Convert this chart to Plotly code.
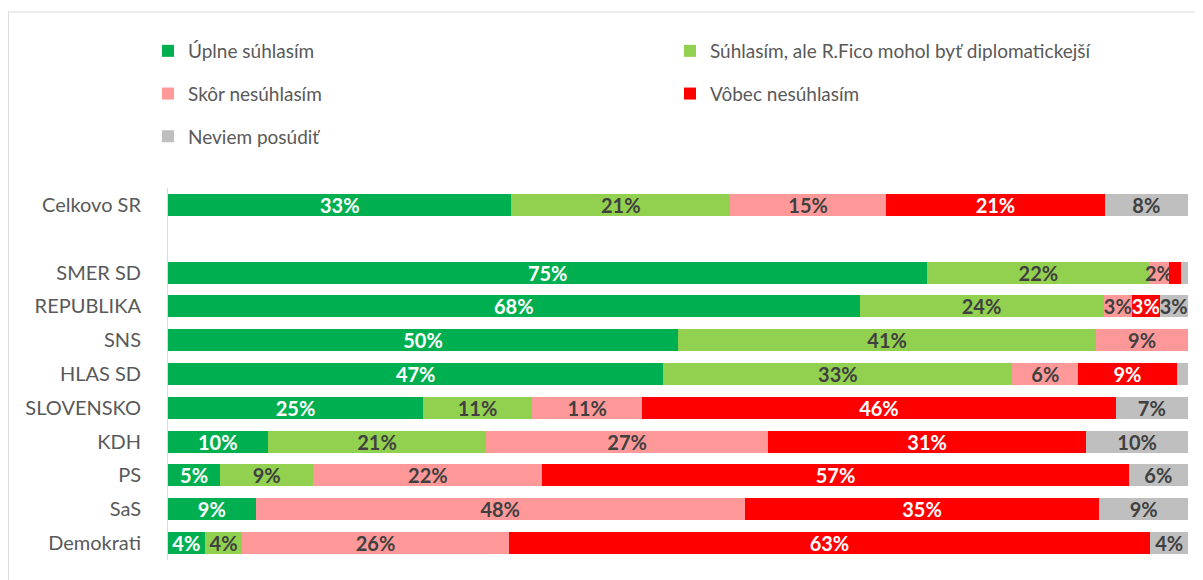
import plotly.graph_objects as go

# Row labels (None = empty gap row)
rows = ["Celkovo SR", None, "SMER SD", "REPUBLIKA", "SNS", "HLAS SD",
        "SLOVENSKO", "KDH", "PS", "SaS", "Demokrati"]

series_names = ["Úplne súhlasím",
                "Súhlasím, ale R.Fico mohol byť diplomatickejší",
                "Skôr nesúhlasím",
                "Vôbec nesúhlasím",
                "Neviem posúdiť"]

# values per series, in order of non-empty rows
uplne    = [33.0, 74.6, 68.0, 50.0, 47.4, 25.0, 9.7, 5.1, 8.6, 3.6]
suhlasim = [21.0, 21.8, 24.0, 41.0, 33.4, 10.7, 21.3, 9.1, 0.0, 3.7]
skor     = [15.0, 1.9, 2.8, 9.0, 6.3, 10.8, 27.4, 22.4, 48.0, 26.1]
vobec    = [21.0, 1.2, 2.7, 0.0, 9.4, 46.4, 31.0, 57.3, 34.8, 62.9]
neviem   = [8.0, 0.7, 2.8, 0.0, 1.1, 7.1, 9.9, 5.8, 8.7, 3.7]

# whether the value label is shown (small labels removed in original)
show_uplne    = [1, 1, 1, 1, 1, 1, 1, 1, 1, 1]
show_suhlasim = [1, 1, 1, 1, 1, 1, 1, 1, 0, 1]
show_skor     = [1, 1, 1, 1, 1, 1, 1, 1, 1, 1]
show_vobec    = [1, 0, 1, 0, 1, 1, 1, 1, 1, 1]
show_neviem   = [1, 0, 1, 0, 0, 1, 1, 1, 1, 1]

colors = ["#00B050", "#92D050", "#FF9999", "#FF0000", "#BFBFBF"]
text_colors = ["#FFFFFF", "#404040", "#404040", "#FFFFFF", "#404040"]
legend_ids = ["legend", "legend2", "legend", "legend2", "legend"]

labels = [r for r in rows if r is not None]
positions = [i for i, r in enumerate(rows) if r is not None]

FONT = "Lato"

fig = go.Figure()
all_vals = [uplne, suhlasim, skor, vobec, neviem]
all_show = [show_uplne, show_suhlasim, show_skor, show_vobec, show_neviem]
for k, name in enumerate(series_names):
    vals = all_vals[k]
    texts = [f"{round(v):d}%" if s and v > 0 else "" for v, s in zip(vals, all_show[k])]
    fig.add_trace(go.Bar(
        name=name,
        y=positions,
        x=vals,
        orientation="h",
        marker=dict(color=colors[k], line=dict(width=0)),
        text=texts,
        texttemplate="%{text}",
        textposition="inside",
        insidetextanchor="middle",
        textangle=0,
        insidetextfont=dict(family=FONT, size=20, color=text_colors[k], weight="bold"),
        legend=legend_ids[k],
        legendgroup=name,
        hoverinfo="skip",
    ))

# plot area (figure pixels): x 160..1180, y 180..552
L, R, T, B = 160, 23, 180, 28
PW, PH = 1203 - L - R, 580 - T - B

fig.update_layout(
    width=1203, height=580,
    barmode="stack", barnorm="percent", bargap=0.35,
    plot_bgcolor="white", paper_bgcolor="white",
    margin=dict(l=L, r=R, t=T, b=B, autoexpand=False),
    font=dict(family=FONT, color="#595959"),
    uniformtext=dict(minsize=20, mode="show"),
    showlegend=True,
    legend=dict(
        xref="container", yref="container",
        x=140 / 1203, y=1 - 24 / 580, xanchor="left", yanchor="top",
        orientation="v", traceorder="grouped", tracegroupgap=15,
        font=dict(family=FONT, size=19, color="#595959"),
        bgcolor="rgba(0,0,0,0)",
    ),
    legend2=dict(
        xref="container", yref="container",
        x=662 / 1203, y=1 - 24 / 580, xanchor="left", yanchor="top",
        orientation="v", traceorder="grouped", tracegroupgap=15,
        font=dict(family=FONT, size=19, color="#595959"),
        bgcolor="rgba(0,0,0,0)",
    ),
    xaxis=dict(range=[0, 100], showticklabels=False, showgrid=False,
               zeroline=False, showline=False, fixedrange=True),
    yaxis=dict(range=[len(rows) - 0.5, -0.5], tickmode="array",
               tickvals=positions, ticktext=labels,
               showgrid=False, zeroline=False,
               showline=True, linecolor="#D9D9D9", linewidth=1,
               ticks="", ticklabelstandoff=22,
               tickfont=dict(family=FONT, size=20, color="#595959")),
)

# outer chart border (light gray frame, partly outside the image)
fig.add_shape(type="rect", xref="paper", yref="paper",
              x0=(0.5 - L) / PW, x1=(1230 - L) / PW,
              y0=(PH + 0 - 620 + T) / PH, y1=(PH + T - 4) / PH,
              line=dict(color="#D9D9D9", width=1), fillcolor="rgba(0,0,0,0)",
              layer="below")

fig.write_html("out.html")
